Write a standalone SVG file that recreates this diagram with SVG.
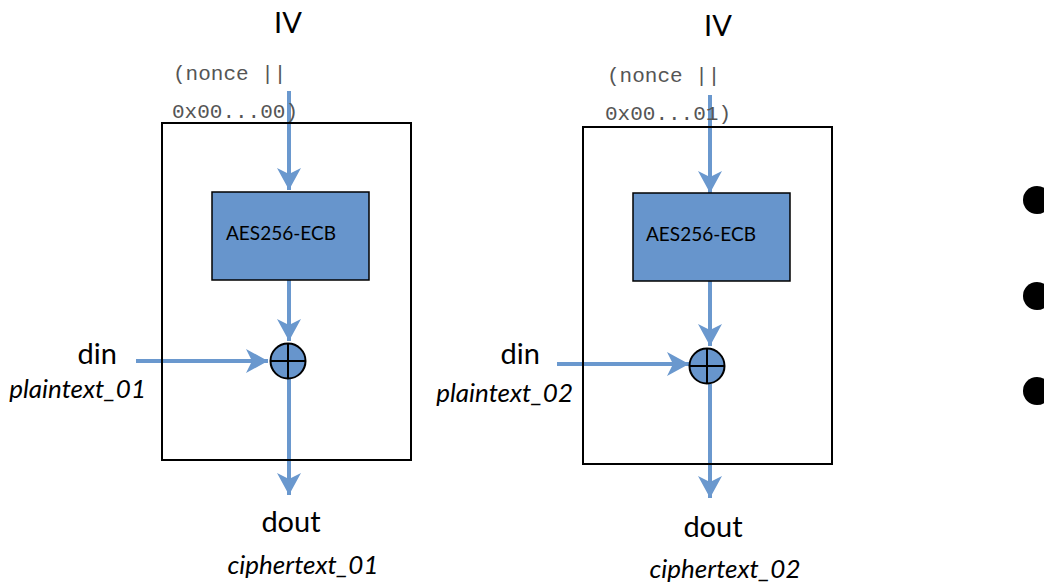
<svg xmlns="http://www.w3.org/2000/svg" width="1044" height="584" viewBox="0 0 1044 584">
<style>
.frame{fill:none;stroke:#000;stroke-width:2}
.aes{fill:#6795CC;stroke:#000;stroke-width:1.5}
.xor{fill:#6795CC;stroke:#000;stroke-width:2}
.xl{stroke:#000;stroke-width:2}
.wire{fill:none;stroke:#6A98CE;stroke-width:4;marker-end:url(#ah)}
.lbl{font-family:Lato,"Noto Sans",sans-serif;fill:#000}
.big{font-size:29px}
.it{font-size:26px;font-style:italic}
.mono{font-family:"Liberation Mono",monospace;font-size:21px;fill:#555}
.box{font-family:Lato,"Noto Sans",sans-serif;font-size:19px;fill:#000}
</style>
<defs>
<marker id="ah" markerUnits="userSpaceOnUse" markerWidth="24" markerHeight="24" viewBox="0 0 24 24" refX="22" refY="12" orient="auto">
<path d="M0,0 L22,12 L0,24 L6,12 Z" fill="#6A98CE"/>
</marker>
</defs>
<g id="connectors">
<line class="wire" x1="289" y1="91" x2="289" y2="190"/>
<line class="wire" x1="289" y1="280" x2="289" y2="341"/>
<line class="wire" x1="136" y1="361" x2="268" y2="361"/>
<line class="wire" x1="289" y1="379" x2="289" y2="495"/>
<line class="wire" x1="710" y1="95" x2="710" y2="193"/>
<line class="wire" x1="710" y1="281" x2="710" y2="346"/>
<line class="wire" x1="557" y1="364" x2="689" y2="364"/>
<line class="wire" x1="710" y1="384" x2="710" y2="498"/>
</g>
<g id="block1">
<rect class="frame" x="162" y="123" width="249" height="337"/>
</g>
<g id="aes1">
<rect class="aes" x="212" y="192" width="157" height="88"/>
<text class="box" x="226" y="240">AES256-ECB</text>
</g>
<g id="xor1">
<circle class="xor" cx="288" cy="361" r="17.5"/>
<line class="xl" x1="270.5" y1="361" x2="305.5" y2="361"/>
<line class="xl" x1="288" y1="343.5" x2="288" y2="378.5"/>
</g>
<g id="iv1">
<text class="lbl big" x="288" y="33" text-anchor="middle">IV</text>
<text class="mono" x="173" y="80">(nonce ||</text>
<text class="mono" x="172" y="118">0x00...00)</text>
</g>
<g id="din1">
<text class="lbl big" x="117" y="364" text-anchor="end">din</text>
<text class="lbl it" x="146" y="398" text-anchor="end">plaintext_01</text>
</g>
<g id="dout1">
<text class="lbl big" x="291" y="532" text-anchor="middle">dout</text>
<text class="lbl it" x="303" y="574" text-anchor="middle">ciphertext_01</text>
</g>
<g id="block2">
<rect class="frame" x="583" y="127" width="249" height="337"/>
</g>
<g id="aes2">
<rect class="aes" x="633" y="193" width="157" height="88"/>
<text class="box" x="646" y="241">AES256-ECB</text>
</g>
<g id="xor2">
<circle class="xor" cx="707" cy="366" r="17.5"/>
<line class="xl" x1="689.5" y1="366" x2="724.5" y2="366"/>
<line class="xl" x1="707" y1="348.5" x2="707" y2="383.5"/>
</g>
<g id="iv2">
<text class="lbl big" x="718" y="36" text-anchor="middle">IV</text>
<text class="mono" x="607" y="82">(nonce ||</text>
<text class="mono" x="605" y="120">0x00...01)</text>
</g>
<g id="din2">
<text class="lbl big" x="540" y="364" text-anchor="end">din</text>
<text class="lbl it" x="573" y="402" text-anchor="end">plaintext_02</text>
</g>
<g id="dout2">
<text class="lbl big" x="713" y="537" text-anchor="middle">dout</text>
<text class="lbl it" x="725" y="578" text-anchor="middle">ciphertext_02</text>
</g>
<g id="ellipsis">
<circle cx="1037" cy="200" r="14" fill="#000"/>
<circle cx="1037" cy="296" r="14" fill="#000"/>
<circle cx="1037" cy="391" r="14" fill="#000"/>
</g>
</svg>
